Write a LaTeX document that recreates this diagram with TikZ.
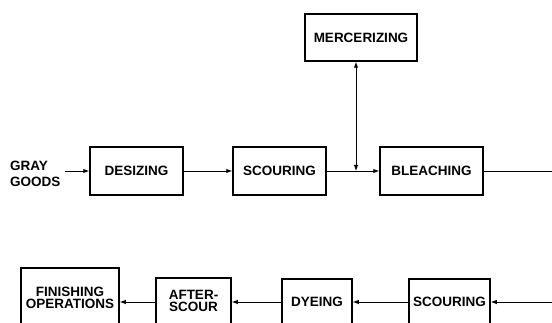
\documentclass[tikz,border=0pt]{standalone}
\usepackage{fontspec}
\setmainfont{Liberation Sans}
\usetikzlibrary{arrows.meta}
\begin{document}
\begin{tikzpicture}[x=1pt,y=-1pt,
  lbl/.style={font=\bfseries\fontsize{13.5}{12}\selectfont},
  box/.style={draw, line width=1.5pt, rectangle, inner sep=0pt, align=center, lbl},
  conn/.style={line width=0.9pt, -{Latex[length=6pt,width=4.5pt]}},
  dconn/.style={line width=0.9pt, {Latex[length=6pt,width=4.5pt]}-{Latex[length=6pt,width=4.5pt]}},
  plain/.style={line width=0.9pt}]
\useasboundingbox (0,0) rectangle (552,323);
% top row
\node[anchor=west, align=left, inner sep=0pt, font=\bfseries\fontsize{13.5}{16}\selectfont] (gray) at (10,174) {GRAY\\GOODS};
\node[box, minimum width=93pt, minimum height=48pt] (desiz) at (136.5,171) {DESIZING};
\node[box, minimum width=93pt, minimum height=48pt] (scour1) at (279.5,171) {SCOURING};
\node[box, minimum width=103pt, minimum height=48pt] (bleach) at (431.5,171) {BLEACHING};
\node[box, minimum width=112pt, minimum height=47pt] (merc) at (361,37.5) {MERCERIZING};
\coordinate (j) at (356,171);
\coordinate (outR) at (552,171);
\draw[conn] ([xshift=4pt]gray.east |- desiz.west) -- (desiz.west);
\draw[conn] (desiz.east) -- (scour1.west);
\draw[conn] (scour1.east) -- (bleach.west);
\draw[dconn] (merc.south -| j) -- (j);
\draw[plain] (bleach.east) -- (outR);
% bottom row
\node[box, minimum width=81pt, minimum height=46pt] (scour2) at (449.5,302) {SCOURING};
\node[box, minimum width=70pt, minimum height=46pt] (dye) at (317,302) {DYEING};
\node[box, minimum width=75pt, minimum height=46pt] (after) at (193.5,301) {AFTER-\\SCOUR};
\node[box, minimum width=98pt, minimum height=60pt] (fin) at (70,298) {FINISHING\\OPERATIONS};
\coordinate (inR) at (552,302);
\draw[conn] (inR) -- (scour2.east);
\draw[conn] (scour2.west) -- (dye.east);
\draw[conn] (dye.west) -- (after.east |- dye.west);
\draw[conn] (after.west |- dye.west) -- (fin.east |- dye.west);
\end{tikzpicture}
\end{document}
